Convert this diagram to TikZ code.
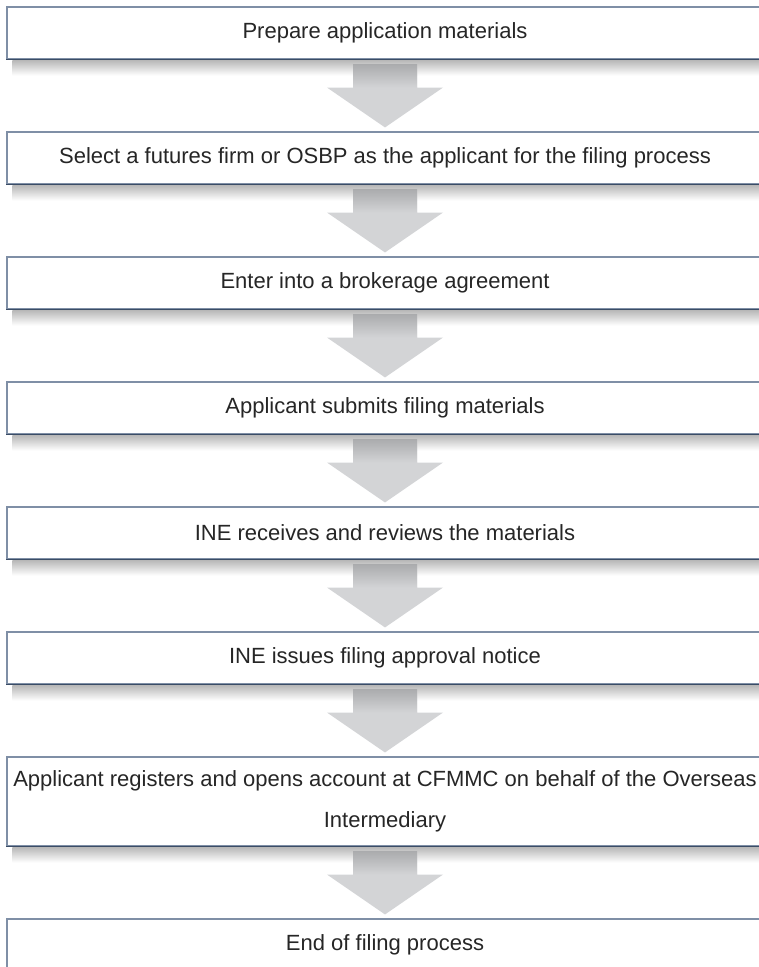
\documentclass[tikz,border=0pt]{standalone}
\usepackage{fontspec}
\setmainfont{Liberation Sans}
\usetikzlibrary{calc}
\definecolor{boxline}{HTML}{7F8FA6}
\definecolor{boxdark}{HTML}{3A4C66}
\definecolor{arrowgray}{HTML}{D3D4D6}
\definecolor{arrowdark}{HTML}{ABACAE}
\definecolor{textgray}{HTML}{262626}
\begin{document}
\begin{tikzpicture}[x=1pt,y=-1pt,
  stepbox/.style={draw=boxline,line width=1.1pt,fill=white,minimum width=756pt,
    minimum height=52pt,inner sep=0pt,align=center,
    text=textgray,font=\fontsize{22}{41}\selectfont},
  shadowbar/.style={top color=black!28,bottom color=white,draw=none}]
\useasboundingbox (0,0) rectangle (759,967);

% Stappen
\node[stepbox] (s1) at (385,33) {Prepare application materials};
\node[stepbox] (s2) at (385,158) {Select a futures firm or OSBP as the applicant for the filing process};
\node[stepbox] (s3) at (385,283) {Enter into a brokerage agreement};
\node[stepbox] (s4) at (385,408) {Applicant submits filing materials};
\node[stepbox] (s5) at (385,533) {INE receives and reviews the materials};
\node[stepbox] (s6) at (385,658) {INE issues filing approval notice};
\node[stepbox,minimum height=89pt] (s7) at (385,801.5) {Applicant registers and opens account at CFMMC on behalf of the Overseas\\Intermediary};
\node[stepbox] (s8) at (385,945) {End of filing process};

% Schaduw en rand
\foreach \s in {s1,s2,s3,s4,s5,s6,s7} {
  \shade[shadowbar] ($(\s.south west)+(6,0.6)$) rectangle ($(\s.south east)+(0,16)$);
  \draw[boxdark,line width=1.1pt] (\s.south west) -- (\s.south east);
}

% Pijlen
\foreach \a/\b in {s1/s2,s2/s3,s3/s4,s4/s5,s5/s6,s6/s7,s7/s8} {
  \fill[arrowgray] ($(\a.south)+(-32,5)$) -- ($(\a.south)+(32,5)$) -- ($(\a.south)+(32,28)$)
    -- ($(\a.south)+(58,28)$) -- ($(\b.north)+(0,-4)$) -- ($(\a.south)+(-58,28)$)
    -- ($(\a.south)+(-32,28)$) -- cycle;
  \shade[top color=arrowdark,bottom color=arrowgray] ($(\a.south)+(-32,5)$) rectangle ($(\a.south)+(32,28)$);
}
\end{tikzpicture}
\end{document}
